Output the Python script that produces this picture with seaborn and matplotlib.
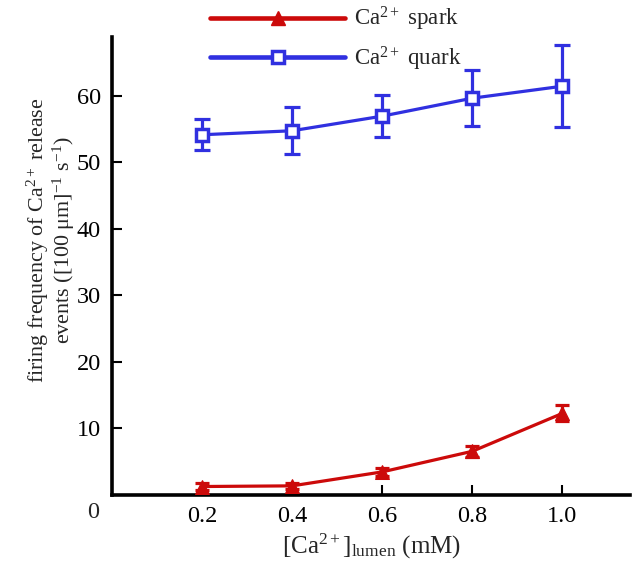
import matplotlib
matplotlib.use("Agg")
import matplotlib.pyplot as plt
import seaborn as sns
import pandas as pd
from matplotlib.lines import Line2D

conc = [0.2, 0.4, 0.6, 0.8, 1.0]
spark_mean = [1.2, 1.3, 3.4, 6.5, 12.2]
spark_err = [0.5, 0.5, 0.6, 0.8, 1.2]
quark_mean = [54.1, 54.7, 56.9, 59.6, 61.4]
quark_err = [2.3, 3.5, 3.2, 4.2, 6.2]
series_names = ["Ca$^{2+}$ spark", "Ca$^{2+}$ quark"]

red = "#cc0a0a"
blue = "#3030e0"

sns.set_theme(style="ticks")
plt.rcParams["font.family"] = ["Liberation Serif", "DejaVu Serif"]
plt.rcParams["mathtext.fontset"] = "custom"
plt.rcParams["mathtext.rm"] = "Liberation Serif"
plt.rcParams["mathtext.it"] = "Liberation Serif:italic"
plt.rcParams["mathtext.default"] = "rm"

fig = plt.figure(figsize=(6.33, 5.66), dpi=100)
ax = fig.add_axes([112 / 633, 1 - 494.5 / 566, (630 - 112) / 633, (494.5 - 37) / 566])

fs = 17.5
lw = 2.3

# spark
ax.errorbar(conc, spark_mean, yerr=spark_err, fmt="none", ecolor=red,
            elinewidth=lw, capsize=5, capthick=lw, zorder=2)
sns.lineplot(x=conc, y=spark_mean, ax=ax, color=red, lw=lw, marker="^",
             markersize=10, markerfacecolor=red, markeredgecolor=red, zorder=3)
# quark
ax.errorbar(conc, quark_mean, yerr=quark_err, fmt="none", ecolor=blue,
            elinewidth=lw, capsize=6, capthick=lw, zorder=2)
sns.lineplot(x=conc, y=quark_mean, ax=ax, color=blue, lw=lw, marker="s",
             markersize=9, markerfacecolor="white", markeredgecolor=blue,
             markeredgewidth=2.5, zorder=3)

ax.set_xlim(0, 1.15)
ax.set_ylim(0, 68.8)
ax.set_xticks(conc)
ax.set_xticklabels(["0.2", "0.4", "0.6", "0.8", "1.0"])
ax.set_yticks([10, 20, 30, 40, 50, 60])
ax.tick_params(direction="in", length=7, width=1.5, labelsize=fs, pad=8, colors="black")
for s in ["top", "right"]:
    ax.spines[s].set_visible(False)
for s in ["left", "bottom"]:
    ax.spines[s].set_linewidth(2.6)
    ax.spines[s].set_color("black")

ax.set_xlabel("[Ca$^{2+}$]$_{\\rm lumen}$ (mM)", fontsize=18, labelpad=4)
ax.set_ylabel("firing frequency of Ca$^{2+}$ release\nevents ([100 \u03bcm]$^{-1}$ s$^{-1}$)",
              fontsize=15.8, va="center", linespacing=1.0)
ax.yaxis.set_label_coords(-0.118, 0.556)

fig.text(93 / 633, 1 - 513 / 566, "0", fontsize=fs, ha="center", va="center")

handles = [
    Line2D([], [], color=red, lw=lw + 1.0, marker="^", markersize=10,
           markerfacecolor=red, markeredgecolor=red),
    Line2D([], [], color=blue, lw=lw + 1.0, marker="s", markersize=9,
           markerfacecolor="white", markeredgecolor=blue, markeredgewidth=2.5),
]
leg = ax.legend(handles, series_names, loc="upper left",
                bbox_to_anchor=(210 / 633, 1 - 5 / 566), bbox_transform=fig.transFigure,
                frameon=False, fontsize=16.5, handlelength=5.9, handletextpad=0.4,
                labelspacing=0.5, borderpad=0, borderaxespad=0, numpoints=1)
leg.set_zorder(5)

fig.savefig("out.png", dpi=100)
